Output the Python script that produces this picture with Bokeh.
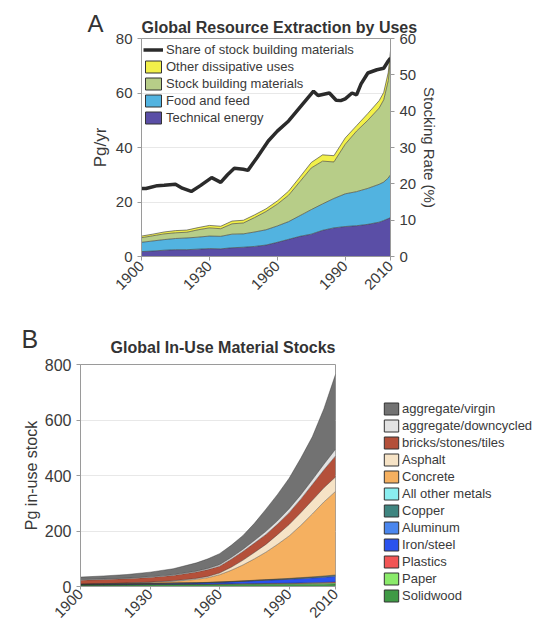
import math
from bokeh.plotting import figure
from bokeh.models import (ColumnDataSource, Range1d, LinearAxis, FixedTicker, Legend,
                          LegendItem, Title)
from bokeh.embed import file_html
from bokeh.resources import INLINE

FONT = "Liberation Sans"
NAN = float("nan")

# ---------------- Panel A data (Pg/yr, stacked layers) ----------------
years_a = [1900, 1905, 1910, 1915, 1920, 1925, 1930, 1935, 1940, 1945, 1950, 1955, 1960,
           1965, 1970, 1975, 1980, 1985, 1990, 1995, 2000, 2005, 2007, 2009, 2010]
technical_energy = [1.8, 2.0, 2.3, 2.5, 2.5, 2.7, 2.9, 2.8, 3.2, 3.4, 3.7, 4.2, 5.2,
                    6.3, 7.4, 8.2, 9.6, 10.5, 11.0, 11.3, 11.8, 12.6, 13.2, 13.9, 14.3]
food_feed = [3.4, 3.7, 3.9, 4.1, 4.3, 4.4, 4.6, 4.6, 5.0, 4.9, 5.3, 5.6, 6.0,
             6.5, 7.6, 9.0, 9.7, 10.8, 12.0, 12.5, 13.2, 13.9, 14.1, 14.9, 15.7]
stock_building = [1.7, 1.9, 2.1, 2.1, 2.1, 2.7, 3.0, 2.8, 3.8, 4.0, 5.3, 6.7, 8.0,
                  9.7, 12.5, 15.3, 15.7, 13.4, 18.2, 22.2, 25.0, 28.0, 30.2, 35.7, 42.5]
other_dissipative = [0.6, 0.6, 0.7, 0.8, 0.8, 0.8, 0.9, 0.9, 1.0, 1.0, 1.0, 1.0, 1.2,
                     1.5, 1.7, 2.0, 2.3, 2.3, 2.3, 2.0, 2.5, 2.7, 2.7, 3.0, 3.0]

# share of stock building materials (%), right axis
share_years = [1900, 1902, 1907, 1910, 1915, 1918, 1922, 1926, 1931, 1935, 1938, 1941,
               1945, 1947, 1951, 1956, 1960, 1965, 1971, 1976, 1978, 1980, 1983, 1986,
               1988, 1990, 1993, 1995, 1997, 2000, 2004, 2007, 2009, 2010]
share_pct = [18.7, 18.7, 19.5, 19.6, 19.9, 18.8, 17.9, 19.5, 21.7, 20.4, 22.5, 24.3,
             24.0, 23.7, 27.2, 31.8, 34.5, 37.3, 41.8, 45.5, 44.3, 44.6, 45.0, 43.0,
             42.9, 43.4, 45.0, 44.5, 47.5, 50.5, 51.4, 51.8, 53.8, 54.6]

# ---------------- Panel B data (Pg in-use stock) ----------------
years_b = [1900, 1910, 1920, 1930, 1940, 1950, 1955, 1960, 1965, 1970, 1975, 1980,
           1985, 1990, 1995, 2000, 2005, 2010]
solidwood = [5.0, 5.5, 6.0, 6.5, 7.0, 7.0, 7.2, 7.5, 7.5, 7.5, 7.8, 8.0, 8.0, 8.0, 8.2, 8.5, 8.5, 9.0]
paper = [0.2, 0.3, 0.4, 0.5, 0.6, 0.8, 0.9, 1.0, 1.2, 1.5, 1.8, 2.0, 2.2, 2.5, 2.8, 3.0, 3.5, 4.0]
plastics = [0, 0, 0, 0, 0, 0.05, 0.1, 0.2, 0.35, 0.5, 0.7, 0.9, 1.1, 1.4, 1.7, 2.0, 2.5, 3.0]
iron_steel = [2.0, 2.5, 3.0, 3.5, 4.2, 5.0, 5.7, 6.5, 7.8, 9.0, 10.2, 11.5, 12.8, 14.0, 15.5, 17.0, 18.5, 20.0]
aluminum = [0, 0, 0, 0, 0.05, 0.1, 0.2, 0.3, 0.45, 0.6, 0.8, 1.0, 1.2, 1.5, 1.8, 2.0, 2.5, 3.0]
copper = [0.1, 0.1, 0.15, 0.2, 0.25, 0.3, 0.32, 0.35, 0.4, 0.45, 0.5, 0.55, 0.62, 0.7, 0.75, 0.8, 0.9, 1.0]
other_metals = [0.2, 0.2, 0.25, 0.3, 0.35, 0.4, 0.45, 0.5, 0.6, 0.7, 0.75, 0.8, 0.9, 1.0, 1.1, 1.2, 1.3, 1.5]
concrete = [0.5, 1, 2, 3.5, 6, 12, 17, 26, 40, 57, 77, 99, 125, 153, 188, 227, 267, 301]
asphalt = [0.3, 0.5, 0.8, 1.2, 2, 3.5, 4.5, 6, 11, 17, 23, 28, 35, 41, 46, 49, 51, 52]
bricks = [14.5, 15, 15.5, 17, 19.5, 23, 24.5, 25, 29, 32, 34, 36, 38, 43, 49, 57, 65, 76]
agg_downcycled = [2, 2, 2, 2, 2, 3, 4, 5, 6, 7, 9, 11, 12, 14, 15, 17, 20, 24]
agg_virgin = [9, 11, 13, 17, 22, 30, 35, 40, 44, 50, 62, 80, 95, 110, 132, 155, 200, 270]

x_ticks = [1900, 1930, 1960, 1990, 2010]
a_left_ticks = [0, 20, 40, 60, 80]
a_right_ticks = [0, 10, 20, 30, 40, 50, 60]
b_ticks = [0, 200, 400, 600, 800]

TXT = "#3a3a3a"
AX = "#9a9a9a"


def style_axis(ax, size="15px"):
    ax.axis_line_color = AX
    ax.major_tick_line_color = AX
    ax.minor_tick_line_color = None
    ax.major_tick_out = 4
    ax.major_tick_in = 0
    ax.major_label_text_font = FONT
    ax.major_label_text_font_size = size
    ax.major_label_text_color = TXT
    ax.axis_label_text_font = FONT
    ax.axis_label_text_font_style = "normal"
    ax.axis_label_text_color = TXT


def swatch(p, color):
    # legend-only renderer (a single NaN row draws nothing in the plot)
    return p.quad(left=[NAN], right=[NAN], top=[NAN], bottom=[NAN], fill_color=color,
                  line_color="#333333", line_width=1)


# ================= Panel A =================
srcA = ColumnDataSource(dict(year=years_a, energy=technical_energy, food=food_feed,
                             stock=stock_building, other=other_dissipative))
srcS = ColumnDataSource(dict(year=share_years, share=share_pct))

a_colors = ["#5a4ea6", "#52b3e0", "#b7cd88", "#f2f04a"]

pA = figure(frame_width=249, frame_height=218, x_range=Range1d(1900, 2010),
            y_range=Range1d(0, 80), output_backend="svg", toolbar_location=None,
            title=None, min_border_left=141, min_border_right=60, min_border_top=38,
            min_border_bottom=46)
pA.extra_y_ranges = {"share": Range1d(0, 60)}
pA.outline_line_color = AX
pA.xgrid.grid_line_color = None
pA.ygrid.grid_line_color = "#e8e8e8"
pA.ygrid.ticker = FixedTicker(ticks=a_left_ticks)

pA.varea_stack(stackers=["energy", "food", "stock", "other"], x="year",
               color=a_colors, source=srcA)
pA.vline_stack(stackers=["energy", "food", "stock", "other"], x="year",
               color="#3d3d3d", line_width=0.8, line_alpha=0.8, source=srcA)
share_r = pA.line("year", "share", source=srcS, y_range_name="share",
                  color="#2b2b2b", line_width=3.5)

pA.xaxis.ticker = FixedTicker(ticks=x_ticks)
pA.xaxis.major_label_orientation = math.pi / 4
pA.yaxis.ticker = FixedTicker(ticks=a_left_ticks)
pA.yaxis.axis_label = "Pg/yr"
for ax in pA.xaxis + pA.yaxis:
    style_axis(ax)
pA.yaxis.axis_label_text_font_size = "17px"
pA.yaxis.axis_label_standoff = 3
pA.xaxis.major_label_standoff = 3

rax = LinearAxis(y_range_name="share", axis_label="Stocking Rate (%)",
                 ticker=FixedTicker(ticks=a_right_ticks))
style_axis(rax)
rax.axis_label_text_font_size = "15px"
rax.axis_label_standoff = 2
pA.add_layout(rax, "right")

legA = Legend(items=[
    LegendItem(label="Share of stock building materials", renderers=[share_r]),
    LegendItem(label="Other dissipative uses", renderers=[swatch(pA, a_colors[3])]),
    LegendItem(label="Stock building materials", renderers=[swatch(pA, a_colors[2])]),
    LegendItem(label="Food and feed", renderers=[swatch(pA, a_colors[1])]),
    LegendItem(label="Technical energy", renderers=[swatch(pA, a_colors[0])]),
], location=(2, 131), margin=0, padding=0, spacing=2, glyph_height=15, glyph_width=20,
    label_height=15, label_standoff=3, label_text_font=FONT, label_text_font_size="13px",
    label_text_color=TXT, background_fill_alpha=0, border_line_color=None)
pA.add_layout(legA)

# main title (innermost) and panel letter (stacked just above, shifted left)
pA.add_layout(Title(text="Global Resource Extraction by Uses", align="left", text_font=FONT,
                    text_font_size="16px", text_font_style="bold", text_color="#333333",
                    standoff=6), "above")
pA.add_layout(Title(text="A", align="left", offset=-54, text_font=FONT,
                    text_font_size="24px", text_font_style="normal", text_color="#333333",
                    standoff=-46), "above")

# ================= Panel B =================
b_names = ["solidwood", "paper", "plastics", "iron_steel", "aluminum", "copper",
           "other_metals", "concrete", "asphalt", "bricks", "agg_downcycled", "agg_virgin"]
b_labels = ["Solidwood", "Paper", "Plastics", "Iron/steel", "Aluminum", "Copper",
            "All other metals", "Concrete", "Asphalt", "bricks/stones/tiles",
            "aggregate/downcycled", "aggregate/virgin"]
b_colors = ["#3f9a45", "#8aea6a", "#f25555", "#2a52ee", "#4a86ee", "#3f8580",
            "#8aeef0", "#f5b060", "#f6e3c6", "#b4503a", "#e2e2e2", "#727272"]
srcB = ColumnDataSource(dict(year=years_b, solidwood=solidwood, paper=paper, plastics=plastics,
                             iron_steel=iron_steel, aluminum=aluminum, copper=copper,
                             other_metals=other_metals, concrete=concrete, asphalt=asphalt,
                             bricks=bricks, agg_downcycled=agg_downcycled, agg_virgin=agg_virgin))

pB = figure(frame_width=255, frame_height=222, x_range=Range1d(1900, 2010),
            y_range=Range1d(0, 800), output_backend="svg", toolbar_location=None,
            title=None, min_border_left=80, min_border_right=201, min_border_top=62,
            min_border_bottom=40)
pB.outline_line_color = AX
pB.xgrid.grid_line_color = None
pB.ygrid.grid_line_color = "#e8e8e8"
pB.ygrid.ticker = FixedTicker(ticks=b_ticks)

pB.varea_stack(stackers=b_names, x="year", color=b_colors, source=srcB)
pB.vline_stack(stackers=b_names, x="year", color="#333333", line_width=0.6,
               line_alpha=0.7, source=srcB)

pB.xaxis.ticker = FixedTicker(ticks=x_ticks)
pB.xaxis.major_label_orientation = math.pi / 4
pB.yaxis.ticker = FixedTicker(ticks=b_ticks)
pB.yaxis.axis_label = "Pg in-use stock"
for ax in pB.xaxis + pB.yaxis:
    style_axis(ax, "15px")
pB.yaxis.major_label_text_font_size = "16px"
pB.yaxis.axis_label_text_font_size = "16px"
pB.yaxis.axis_label_standoff = 2
pB.xaxis.major_label_standoff = 2
pB.xaxis.major_tick_out = 3

legB_items = [LegendItem(label=lab, renderers=[swatch(pB, col)])
              for lab, col in zip(b_labels[::-1], b_colors[::-1])]
legB = Legend(items=legB_items, location=(47, -17), margin=0, padding=0, spacing=2,
              glyph_height=15, glyph_width=18, label_height=15, label_standoff=2,
              label_text_font=FONT, label_text_font_size="13px", label_text_color=TXT,
              background_fill_alpha=0, border_line_color=None)
pB.add_layout(legB, "right")

pB.add_layout(Title(text="Global In-Use Material Stocks", align="right", text_font=FONT,
                    text_font_size="16px", text_font_style="bold", text_color="#333333",
                    standoff=18), "above")
pB.add_layout(Title(text="B", align="left", offset=-59, text_font=FONT,
                    text_font_size="25px", text_font_style="normal", text_color="#333333",
                    standoff=-50), "above")

open("out.html", "w").write(file_html([pA, pB], INLINE))
